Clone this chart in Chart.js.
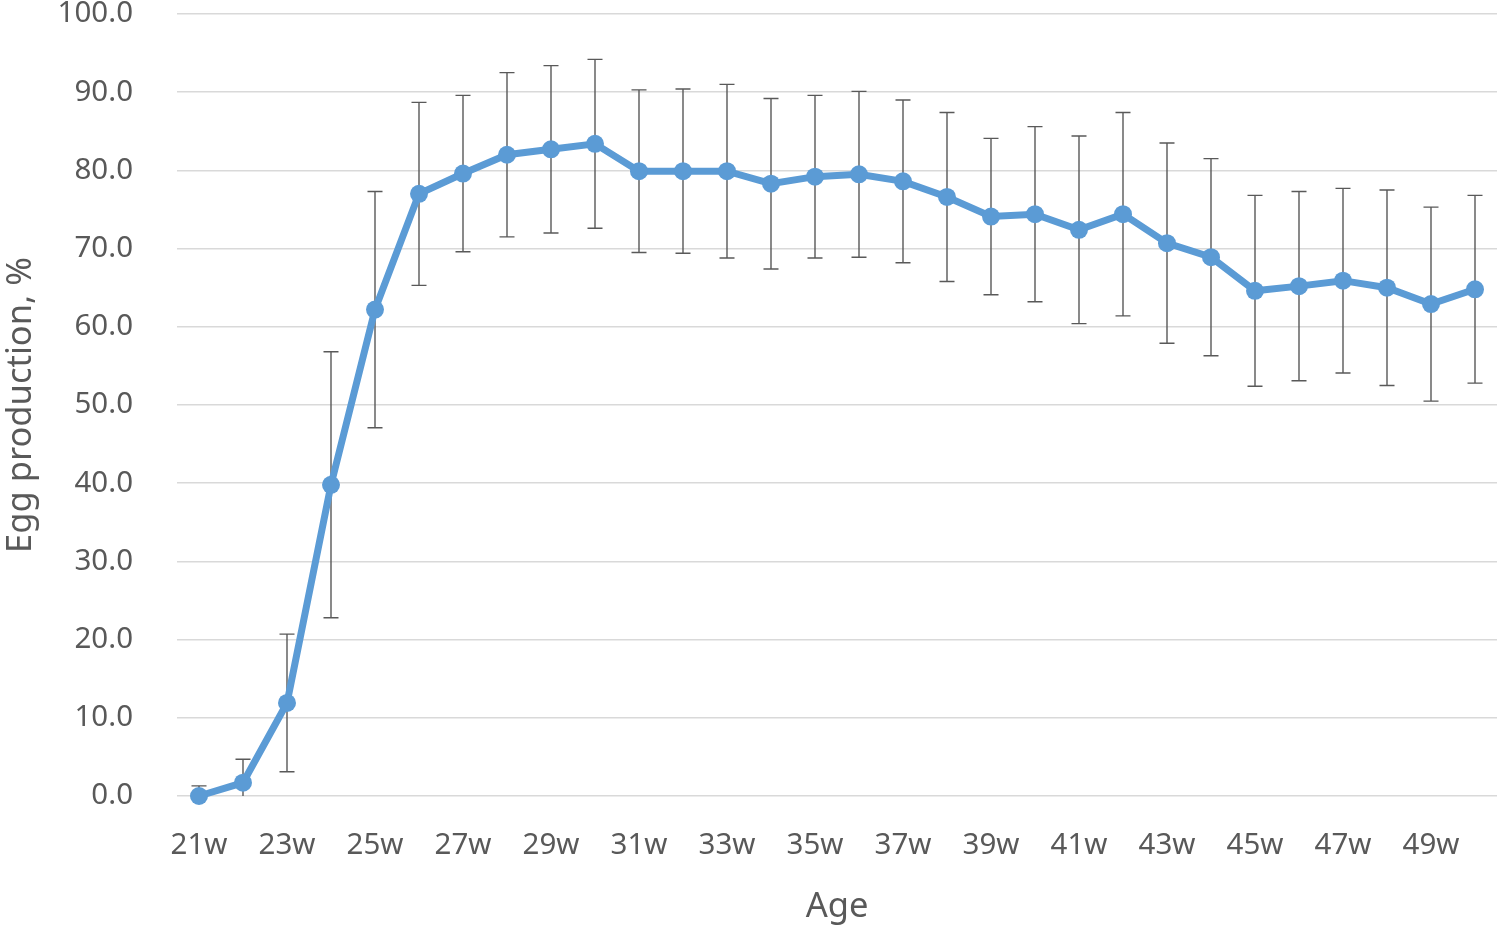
<!DOCTYPE html>
<html>
<head>
<meta charset="utf-8">
<script src="https://cdn.jsdelivr.net/npm/chart.js@4"></script>
<style>
html,body{margin:0;padding:0;background:#fff;overflow:hidden;}
#wrap{width:1506px;height:931px;position:relative;}
canvas{display:block;}
</style>
</head>
<body>
<div id="wrap"><canvas id="c" width="1506" height="931"></canvas></div>
<script>
const ages = ['21w','22w','23w','24w','25w','26w','27w','28w','29w','30w','31w','32w','33w','34w','35w','36w','37w','38w','39w','40w','41w','42w','43w','44w','45w','46w','47w','48w','49w','50w'];
const eggProduction = [0.0,1.7,11.9,39.8,62.2,77.0,79.6,82.0,82.7,83.4,79.9,79.9,79.9,78.3,79.2,79.5,78.6,76.6,74.1,74.4,72.4,74.4,70.7,68.9,64.6,65.2,65.9,65.0,62.9,64.8];
const stdDev = [1.3,3.0,8.8,17.0,15.1,11.7,10.0,10.5,10.7,10.8,10.4,10.5,11.1,10.9,10.4,10.6,10.4,10.8,10.0,11.2,12.0,13.0,12.8,12.6,12.2,12.1,11.8,12.5,12.4,12.0];
const yTicks = [0,10,20,30,40,50,60,70,80,90,100];

const errorBars = {
  id: 'errorBars',
  beforeDatasetsDraw(chart) {
    const ctx = chart.ctx;
    const meta = chart.getDatasetMeta(0);
    const y = chart.scales.y;
    ctx.save();
    ctx.strokeStyle = '#595959';
    ctx.lineWidth = 1.4;
    meta.data.forEach((pt, i) => {
      const v = eggProduction[i], e = stdDev[i];
      const hi = v + e;
      const lo = Math.max(0, v - e);
      const px = pt.x;
      const yHi = y.getPixelForValue(hi);
      const yLo = y.getPixelForValue(lo);
      ctx.beginPath();
      ctx.moveTo(px, yHi); ctx.lineTo(px, yLo);
      ctx.moveTo(px - 7.5, yHi); ctx.lineTo(px + 7.5, yHi);
      if (v - e >= 0) { ctx.moveTo(px - 7.5, yLo); ctx.lineTo(px + 7.5, yLo); }
      ctx.stroke();
    });
    ctx.restore();
  }
};

const tickFont = { family: "'Noto Sans', 'Open Sans', sans-serif", size: 29.5 };
const titleFont = { family: "'Noto Sans', 'Open Sans', sans-serif", size: 34.5 };

new Chart(document.getElementById('c'), {
  type: 'line',
  data: {
    labels: ages,
    datasets: [{
      data: eggProduction,
      borderColor: '#5B9BD5',
      backgroundColor: '#5B9BD5',
      borderWidth: 7,
      pointRadius: 9,
      pointHoverRadius: 9,
      pointBorderWidth: 0,
      tension: 0,
      fill: false,
      clip: false
    }]
  },
  options: {
    responsive: false,
    animation: false,
    devicePixelRatio: 1,
    layout: { padding: { left: 0, right: 4, top: 14, bottom: 0 } },
    plugins: { legend: { display: false }, tooltip: { enabled: false } },
    scales: {
      x: {
        offset: true,
        grid: { display: false, drawTicks: false },
        border: { display: false },
        ticks: {
          autoSkip: false, maxRotation: 0, minRotation: 0,
          padding: 32, color: '#595959', font: tickFont,
          callback: function(val, idx) { return idx % 2 === 0 ? ages[idx] : ''; }
        },
        title: { display: true, text: 'Age', color: '#595959', font: titleFont, padding: { top: 0, bottom: 3 } },
        afterFit(scale) { scale.height = 135; scale.paddingLeft = 0; scale.paddingRight = 0; }
      },
      y: {
        min: 0, max: 100,
        afterBuildTicks(scale) { scale.ticks = yTicks.map(v => ({ value: v })); },
        grid: { color: '#d9d9d9', lineWidth: 1.5, drawTicks: false },
        border: { display: false },
        ticks: {
          padding: 44, color: '#595959', font: tickFont,
          callback: function(v) { return Number(v).toFixed(1); }
        },
        title: { display: true, text: 'Egg production, %', color: '#595959', font: titleFont, padding: { top: 0, bottom: 0 } },
        afterFit(scale) { scale.width = 177; scale.paddingTop = 0; scale.paddingBottom = 0; }
      }
    }
  },
  plugins: [errorBars]
});
</script>
</body>
</html>
